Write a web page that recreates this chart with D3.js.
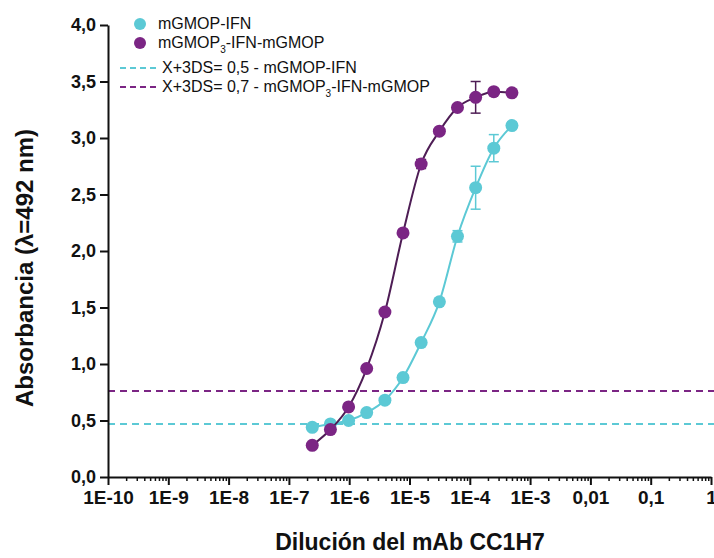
<!DOCTYPE html>
<html>
<head>
<meta charset="utf-8">
<script src="https://cdn.jsdelivr.net/npm/d3@7"></script>
<style>
  body { margin: 0; background: #fff; }
  svg { display: block; font-family: "Liberation Sans", Arial, sans-serif; }
</style>
</head>
<body>
<div id="chart"></div>
<script>
// dilutions (two-fold series, 1/2000 downwards)
const dilutions = [2.44e-7, 4.88e-7, 9.77e-7, 1.95e-6, 3.91e-6, 7.81e-6, 1.56e-5, 3.13e-5, 6.25e-5, 1.25e-4, 2.5e-4, 5e-4];
const cyanAbs   = [0.44, 0.47, 0.50, 0.57, 0.68, 0.88, 1.19, 1.55, 2.13, 2.56, 2.91, 3.11];
const cyanErr   = [0, 0, 0, 0, 0, 0, 0.02, 0.02, 0.05, 0.19, 0.12, 0.03];
const purpleAbs = [0.28, 0.42, 0.62, 0.96, 1.46, 2.16, 2.77, 3.06, 3.27, 3.36, 3.41, 3.40];
const purpleErr = [0, 0, 0, 0, 0.02, 0.02, 0.04, 0.02, 0.02, 0.14, 0.02, 0.02];
const cutoffCyan = 0.47;
const cutoffPurple = 0.76;
const yTicks = [0, 0.5, 1, 1.5, 2, 2.5, 3, 3.5, 4];
const xTicks = [1e-10, 1e-9, 1e-8, 1e-7, 1e-6, 1e-5, 1e-4, 1e-3, 1e-2, 1e-1, 1];
const xTickLabels = ["1E-10", "1E-9", "1E-8", "1E-7", "1E-6", "1E-5", "1E-4", "1E-3", "0,01", "0,1", "1"];

const cyan = "#5cc9d5";
const purple = "#7b2584";
const purpleLine = "#4e1d55";

const W = 714, H = 558;
const svg = d3.select("#chart").append("svg")
  .attr("width", W)
  .attr("height", H);

// scales
const x = d3.scaleLog().domain([1e-10, 1]).range([108, 711]);
const y = d3.scaleLinear().domain([0, 4]).range([477, 25]);

// cut-off lines
svg.append("line")
  .attr("x1", x(1e-10)).attr("x2", W)
  .attr("y1", y(cutoffPurple)).attr("y2", y(cutoffPurple))
  .attr("stroke", purple).attr("stroke-width", 2)
  .attr("stroke-dasharray", "7,5");
svg.append("line")
  .attr("x1", x(1e-10)).attr("x2", W)
  .attr("y1", y(cutoffCyan)).attr("y2", y(cutoffCyan))
  .attr("stroke", cyan).attr("stroke-width", 2)
  .attr("stroke-dasharray", "7,5");

// minor x ticks
const minor = [];
for (let e = -10; e < 0; e++) {
  for (let m = 2; m <= 9; m++) minor.push(m * Math.pow(10, e));
}
svg.append("g")
  .attr("transform", `translate(0,${y(0)})`)
  .call(d3.axisBottom(x).tickValues(minor).tickSize(4).tickFormat(""))
  .call(g => g.select(".domain").remove())
  .call(g => g.selectAll("line").attr("stroke", "#111").attr("stroke-width", 1.5));

// x axis
svg.append("g")
  .attr("transform", `translate(0,${y(0)})`)
  .call(d3.axisBottom(x).tickValues(xTicks).tickSize(8).tickSizeOuter(0).tickPadding(6)
    .tickFormat((d, i) => xTickLabels[i]))
  .call(g => g.select(".domain").attr("stroke", "#111").attr("stroke-width", 2))
  .call(g => g.selectAll("line").attr("stroke", "#111").attr("stroke-width", 2))
  .call(g => g.selectAll("text").attr("fill", "#111")
    .style("font-size", "19px").style("font-weight", "bold").style("font-family", "Liberation Sans, Arial, sans-serif"));

// y axis
svg.append("g")
  .attr("transform", `translate(${x(1e-10)},0)`)
  .call(d3.axisLeft(y).tickValues(yTicks).tickSize(8).tickSizeOuter(0).tickPadding(4)
    .tickFormat(d => d3.format(".1f")(d).replace(".", ",")))
  .call(g => g.select(".domain").attr("stroke", "#111").attr("stroke-width", 2))
  .call(g => g.selectAll("line").attr("stroke", "#111").attr("stroke-width", 2))
  .call(g => g.selectAll("text").attr("fill", "#111")
    .style("font-size", "18px").style("font-weight", "bold").style("font-family", "Liberation Sans, Arial, sans-serif"));

// axis titles
svg.append("text")
  .attr("x", 410)
  .attr("y", 550)
  .attr("text-anchor", "middle")
  .style("font-size", "23px")
  .style("font-weight", "bold")
  .attr("fill", "#111")
  .text("Dilución del mAb CC1H7");

svg.append("text")
  .attr("transform", "translate(33,268) rotate(-90)")
  .attr("text-anchor", "middle")
  .style("font-size", "24px")
  .style("font-weight", "bold")
  .attr("fill", "#111")
  .text("Absorbancia (λ=492 nm)");

// series
const series = [
  { abs: cyanAbs, err: cyanErr, fill: cyan, line: cyan },
  { abs: purpleAbs, err: purpleErr, fill: purple, line: purpleLine }
];

const line = d3.line()
  .x(d => x(d.dil))
  .y(d => y(d.abs))
  .curve(d3.curveMonotoneX);

series.forEach(s => {
  const pts = dilutions.map((dil, i) => ({ dil, abs: s.abs[i], err: s.err[i] }));
  const g = svg.append("g");

  g.append("path")
    .datum(pts)
    .attr("fill", "none")
    .attr("stroke", s.line)
    .attr("stroke-width", 2)
    .attr("d", line);

  // error bars
  const eb = g.selectAll(".err")
    .data(pts.filter(d => d.err > 0))
    .join("g")
    .attr("stroke", s.line)
    .attr("stroke-width", 1.5);
  eb.append("line")
    .attr("x1", d => x(d.dil)).attr("x2", d => x(d.dil))
    .attr("y1", d => y(d.abs - d.err)).attr("y2", d => y(d.abs + d.err));
  eb.append("line")
    .attr("x1", d => x(d.dil) - 5).attr("x2", d => x(d.dil) + 5)
    .attr("y1", d => y(d.abs + d.err)).attr("y2", d => y(d.abs + d.err));
  eb.append("line")
    .attr("x1", d => x(d.dil) - 5).attr("x2", d => x(d.dil) + 5)
    .attr("y1", d => y(d.abs - d.err)).attr("y2", d => y(d.abs - d.err));

  g.selectAll("circle")
    .data(pts)
    .join("circle")
    .attr("cx", d => x(d.dil))
    .attr("cy", d => y(d.abs))
    .attr("r", 6.5)
    .attr("fill", s.fill);
});

// legend
const legend = svg.append("g")
  .style("font-size", "16px")
  .attr("fill", "#111");

legend.append("circle").attr("cx", 140).attr("cy", 24).attr("r", 6).attr("fill", cyan);
legend.append("text").attr("x", 158).attr("y", 29).text("mGMOP-IFN");

legend.append("circle").attr("cx", 140).attr("cy", 43).attr("r", 6).attr("fill", purple);
const t2 = legend.append("text").attr("x", 158).attr("y", 48);
t2.append("tspan").text("mGMOP");
t2.append("tspan").attr("dy", 5).style("font-size", "10px").text("3");
t2.append("tspan").attr("dy", -5).text("-IFN-mGMOP");

legend.append("line").attr("x1", 120).attr("x2", 157).attr("y1", 68).attr("y2", 68)
  .attr("stroke", cyan).attr("stroke-width", 2).attr("stroke-dasharray", "6,4");
legend.append("text").attr("x", 162).attr("y", 73).text("X+3DS= 0,5 - mGMOP-IFN");

legend.append("line").attr("x1", 120).attr("x2", 157).attr("y1", 87).attr("y2", 87)
  .attr("stroke", purple).attr("stroke-width", 2).attr("stroke-dasharray", "6,4");
const t4 = legend.append("text").attr("x", 162).attr("y", 92);
t4.append("tspan").text("X+3DS= 0,7 - mGMOP");
t4.append("tspan").attr("dy", 5).style("font-size", "10px").text("3");
t4.append("tspan").attr("dy", -5).text("-IFN-mGMOP");
</script>
</body>
</html>
